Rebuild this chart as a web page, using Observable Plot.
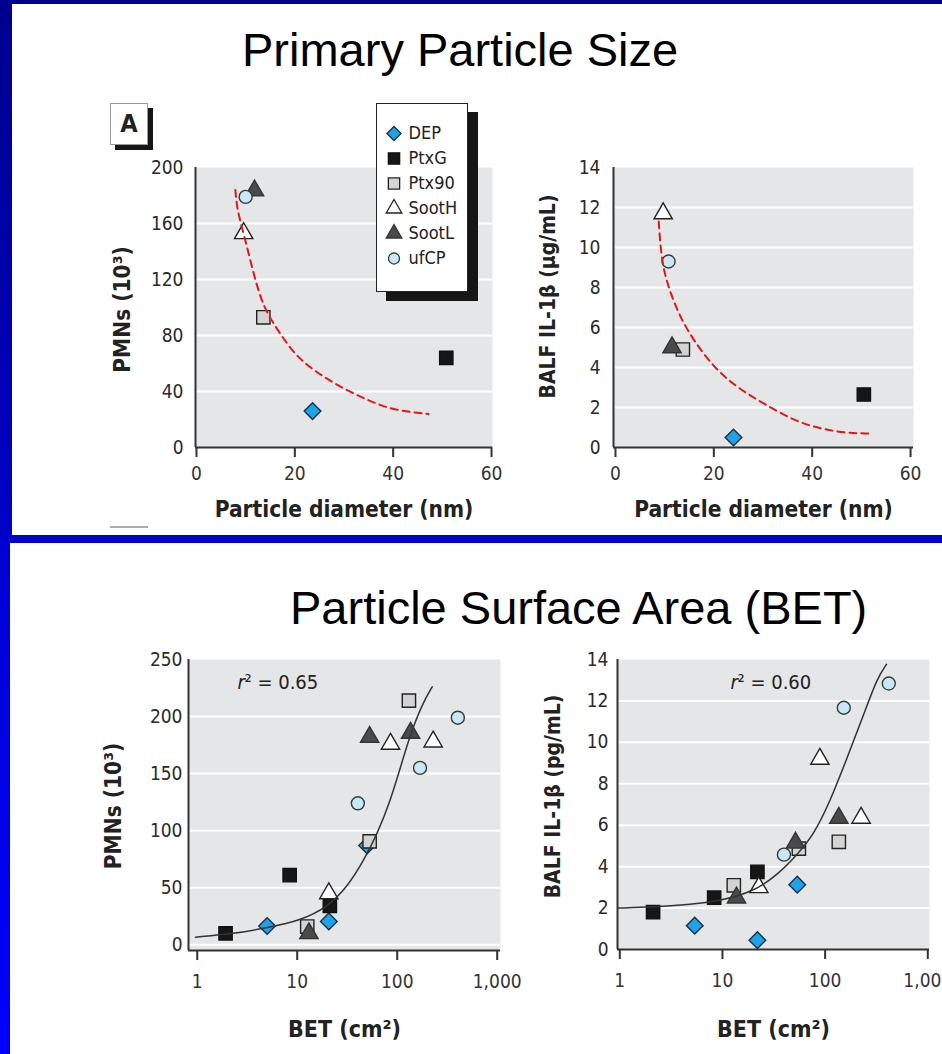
<!DOCTYPE html>
<html>
<head>
<meta charset="utf-8">
<script src="https://cdn.jsdelivr.net/npm/d3@7"></script>
<script src="https://cdn.jsdelivr.net/npm/@observablehq/plot@0.6"></script>
<style>
html,body{margin:0;padding:0;width:942px;height:1054px;overflow:hidden;background:#fff;}
#page{position:relative;width:942px;height:1054px;overflow:hidden;background:#fff;}
.abs{position:absolute;}
.title{font-family:"Liberation Sans",Arial,sans-serif;font-size:47px;line-height:47px;color:#000;white-space:nowrap;}
</style>
</head>
<body>
<div id="page"></div>
<script>
// ---------------- DATA ----------------
const categories = ["DEP", "PtxG", "Ptx90", "SootH", "SootL", "ufCP"];

// Top-left: PMNs (10^3) vs particle diameter (nm)
const diamPmnsX = [23.6, 50.8, 13.6, 9.6, 11.8, 10.0];
const diamPmnsY = [26, 64, 93, 153, 183.5, 179];
const diamFitPmnsX = [7.9, 8.3, 9.6, 11.6, 13.6, 16.5, 19.8, 23.8, 29.3, 34.7, 40, 47.2];
const diamFitPmnsY = [184, 169, 153, 124, 100, 84, 67, 55, 43, 34, 26.5, 24];

// Top-right: BALF IL-1β (µg/mL) vs particle diameter (nm)
const diamIlX = [24.0, 50.5, 13.7, 9.7, 11.5, 10.8];
const diamIlY = [0.5, 2.65, 4.9, 11.7, 5.0, 9.3];
const diamFitIlX = [8.8, 9.15, 9.8, 11.2, 13.2, 15.9, 20, 24.7, 30.1, 36.2, 41.7, 47.1, 51.5];
const diamFitIlY = [11.3, 10.0, 8.85, 7.7, 6.5, 5.35, 4.0, 3.0, 2.2, 1.35, 0.93, 0.72, 0.7];

// Bottom: BET surface area (cm²)
const betCat = ["DEP","DEP","DEP","PtxG","PtxG","PtxG","Ptx90","Ptx90","Ptx90",
                "SootH","SootH","SootH","SootL","SootL","SootL","ufCP","ufCP","ufCP"];
const betPmnsX = [5.0, 20.7, 50, 1.92, 8.4, 21.2, 12.6, 53, 131, 20.7, 85.7, 229, 13.1, 53, 136, 40.4, 169, 404];
const betPmnsY = [16.5, 20.5, 87, 10, 61, 34, 16, 90.6, 214, 45, 176, 178, 10, 182, 185.6, 124, 155, 199];
const betFitPmnsX = [0.96, 2.32, 5.0, 10.8, 20, 31.6, 46.4, 63, 85.7, 108, 136, 178, 224];
const betFitPmnsY = [6.7, 9.6, 15, 21.3, 33, 50.5, 74, 97, 126.6, 155.8, 185, 211, 226];

const betIlX = [5.37, 21.9, 53.5, 2.11, 8.3, 21.9, 12.9, 55.5, 136, 22.6, 88.9, 224, 13.7, 51.5, 136, 39.7, 152, 417];
const betIlY = [1.15, 0.45, 3.13, 1.8, 2.5, 3.75, 3.1, 4.87, 5.2, 3.0, 9.2, 6.35, 2.5, 5.15, 6.35, 4.58, 11.67, 12.84];
const betFitIlX = [0.97, 2.16, 4.55, 9.6, 20.2, 34.2, 53.5, 77.6, 112, 164, 238, 321, 396];
const betFitIlY = [2.0, 2.05, 2.16, 2.35, 2.8, 3.6, 4.58, 5.55, 7.16, 9.26, 11.35, 13.1, 13.77];

// Ticks
const pmnsDiamTicks = [0, 40, 80, 120, 160, 200];
const diamTicks = [0, 20, 40, 60];
const ilTicks = [0, 2, 4, 6, 8, 10, 12, 14];
const pmnsBetTicks = [0, 50, 100, 150, 200, 250];
const betTicks = [1, 10, 100, 1000];
const betTickLabels = ["1", "10", "100", "1,000"];

// Text
const titleTop = "Primary Particle Size";
const titleBottom = "Particle Surface Area (BET)";
const labelDiam = "Particle diameter (nm)";
const labelBet = "BET (cm²)";
const labelPmns = "PMNs (10³)";
const labelIlUg = "BALF IL-1β (μg/mL)";
const labelIlPg = "BALF IL-1β (pg/mL)";
const r2Values = ["0.65", "0.60"];

// ---------------- STYLE ----------------
const FONT = '"Liberation Sans Narrow","Arial Narrow","DejaVu Sans Condensed",sans-serif';
const BG = "#e5e6e8";
const sym = {
  DEP:   {symbol: "diamond2", r: 7.5, fill: "#1ea4e6", stroke: "#1b2f4a"},
  PtxG:  {symbol: "square",   r: 7.5, fill: "#161616", stroke: "#111111"},
  Ptx90: {symbol: "square",   r: 7.5, fill: "#d3d3d3", stroke: "#222222"},
  SootH: {symbol: "triangle", r: 6.8, fill: "#ffffff", stroke: "#222222"},
  SootL: {symbol: "triangle", r: 6.8, fill: "#4a4a4a", stroke: "#333333"},
  ufCP:  {symbol: "circle",   r: 6.5, fill: "#c8e8f8", stroke: "#3a3a3a"}
};

const page = document.getElementById("page");
function place(node, left, top) {
  const d = document.createElement("div");
  d.className = "abs";
  d.style.left = left + "px";
  d.style.top = top + "px";
  d.appendChild(node);
  page.appendChild(d);
  return d;
}
function box(left, top, w, h, css) {
  const d = document.createElement("div");
  d.className = "abs";
  Object.assign(d.style, {left: left + "px", top: top + "px", width: w + "px", height: h + "px"}, css || {});
  page.appendChild(d);
  return d;
}

// Frame bars
box(0, 0, 942, 4, {background: "#00008e"});
box(0, 0, 12, 535, {background: "linear-gradient(#00008e,#0000c8)"});
box(0, 535, 942, 8, {background: "#0000d0"});
box(0, 543, 10, 511, {background: "linear-gradient(#0000d4,#0000ff)"});
box(110, 526, 38, 1.5, {background: "#aaaaaa"});

// Titles
const t1 = box(242, 26, 460, 50); t1.className = "abs title"; t1.textContent = titleTop;
const t2 = box(290, 584, 620, 50); t2.className = "abs title"; t2.textContent = titleBottom;

function panel(cfg) {
  const pts = cfg.cats.map((c, i) => ({cat: c, x: cfg.px[i], y: cfg.py[i]}));
  const fit = cfg.fx.map((x, i) => ({x, y: cfg.fy[i]}));
  const dots = categories.map(c => Plot.dot(pts.filter(d => d.cat === c), {
    x: "x", y: "y", symbol: sym[c].symbol, r: sym[c].r, fill: sym[c].fill,
    stroke: sym[c].stroke, strokeWidth: 1.4
  }));
  const marks = [
    Plot.frame({fill: BG, stroke: "none"}),
    Plot.gridY(cfg.yTicks.filter(t => t > cfg.yDomain[0] && t < cfg.yDomain[1]), {stroke: "#ffffff", strokeOpacity: 1, strokeWidth: 2}),
    Plot.ruleX([cfg.xDomain[0]], {stroke: "#333", strokeWidth: 2}),
    Plot.ruleY([cfg.yDomain[0]], {stroke: "#333", strokeWidth: 2}),
    Plot.axisY(cfg.yTicks, {tickSize: 0, tickPadding: cfg.yPad, label: null, fontSize: 19, color: "#2a2a2a"}),
    Plot.axisX(cfg.xTicks, {tickSize: 10, tickPadding: cfg.xPad, label: null, fontSize: 19, color: "#333",
      strokeWidth: 2, tickFormat: cfg.xFormat}),
    ...dots,
    Plot.line(fit, {x: "x", y: "y", curve: "basis", ...cfg.fitStyle}),
    Plot.text([cfg.xLabel], {text: d => d, frameAnchor: "bottom", textAnchor: "middle", lineAnchor: "middle",
      dy: cfg.xLabelDy, fontWeight: "bold", fontSize: cfg.xLabelSize, fill: "#222"}),
    Plot.text([cfg.yLabel], {text: d => d, frameAnchor: "left", textAnchor: "middle", lineAnchor: "middle", rotate: -90,
      dx: cfg.yLabelDx, dy: cfg.yLabelDy, fontWeight: "bold", fontSize: cfg.yLabelSize, fill: "#222"})
  ];
  if (cfg.r2) {
    marks.push(Plot.text(["r"], {text: d => d, frameAnchor: "top-left", textAnchor: "start", lineAnchor: "middle",
      dx: cfg.r2dx, dy: cfg.r2dy, fontStyle: "italic", fontSize: 20, fill: "#222"}));
    marks.push(Plot.text([cfg.r2], {text: d => "² = " + d, frameAnchor: "top-left", textAnchor: "start", lineAnchor: "middle",
      dx: cfg.r2dx + 7, dy: cfg.r2dy, fontSize: 20, fill: "#222"}));
  }
  const svg = Plot.plot({
    width: cfg.width, height: cfg.height,
    marginLeft: cfg.m[0], marginTop: cfg.m[1], marginRight: cfg.m[2], marginBottom: cfg.m[3],
    style: {fontFamily: FONT, fontSize: "19px", background: "transparent", color: "#2a2a2a", overflow: "visible"},
    x: {type: cfg.xType, domain: cfg.xDomain},
    y: {type: "linear", domain: cfg.yDomain},
    marks
  });
  place(svg, cfg.left, cfg.top);
}

const redDash = {stroke: "#e8141c", strokeWidth: 2, strokeDasharray: "7,5"};
const blackFit = {stroke: "#333", strokeWidth: 1.5};
const betFormat = d => betTickLabels[betTicks.indexOf(d)];

// Top-left
panel({left: 100, top: 150, width: 420, height: 385, m: [95, 17, 28, 88],
  cats: categories, px: diamPmnsX, py: diamPmnsY, fx: diamFitPmnsX, fy: diamFitPmnsY,
  xType: "linear", xDomain: [-0.2, 60.2], yDomain: [0, 200], xTicks: diamTicks, yTicks: pmnsDiamTicks,
  yPad: 12, xPad: 9, xLabel: labelDiam, yLabel: labelPmns, xLabelDy: 62, yLabelDx: -73, yLabelDy: 2,
  xLabelSize: 22.5, yLabelSize: 22.5, fitStyle: redDash});

// Top-right
panel({left: 520, top: 150, width: 422, height: 385, m: [93, 17, 29, 88],
  cats: categories, px: diamIlX, py: diamIlY, fx: diamFitIlX, fy: diamFitIlY,
  xType: "linear", xDomain: [-0.4, 60.6], yDomain: [0, 14], xTicks: diamTicks, yTicks: ilTicks,
  yPad: 13, xPad: 9, xLabel: labelDiam, yLabel: labelIlUg, xLabelDy: 62, yLabelDx: -65, yLabelDy: -11,
  xLabelSize: 22.5, yLabelSize: 21, fitStyle: redDash});

// Bottom-left
panel({left: 100, top: 640, width: 420, height: 414, m: [88, 19, 20, 104],
  cats: betCat, px: betPmnsX, py: betPmnsY, fx: betFitPmnsX, fy: betFitPmnsY,
  xType: "log", xDomain: [0.818, 1079], yDomain: [-5, 250], xTicks: betTicks, yTicks: pmnsBetTicks,
  xFormat: betFormat, yPad: 6, xPad: 14, xLabel: labelBet, yLabel: labelPmns, xLabelDy: 79, yLabelDx: -75, yLabelDy: 1,
  xLabelSize: 23, yLabelSize: 22.5, fitStyle: blackFit, r2: r2Values[0], r2dx: 49, r2dy: 23});

// Bottom-right
panel({left: 520, top: 640, width: 422, height: 414, m: [97, 19, 13, 105],
  cats: betCat, px: betIlX, py: betIlY, fx: betFitIlX, fy: betFitIlY,
  xType: "log", xDomain: [0.95, 1039], yDomain: [0, 14], xTicks: betTicks, yTicks: ilTicks,
  xFormat: betFormat, yPad: 9, xPad: 14, xLabel: labelBet, yLabel: labelIlPg, xLabelDy: 80, yLabelDx: -64, yLabelDy: -8,
  xLabelSize: 23, yLabelSize: 21, fitStyle: blackFit, r2: r2Values[1], r2dx: 113, r2dy: 23});

// Legend
const legBox = box(376, 103, 92, 189, {boxSizing: "border-box", border: "1.5px solid #222", background: "#fff",
  boxShadow: "10px 9px 0 #161616"});
const legRows = categories.map(c => ({cat: c}));
const legend = Plot.plot({
  width: 89, height: 186, margin: 0,
  style: {fontFamily: FONT, fontSize: "18px", background: "transparent", color: "#222", overflow: "visible"},
  y: {type: "point", domain: categories, range: [13.5, 168.5], axis: null},
  marks: [
    ...categories.map(c => Plot.dot(legRows.filter(d => d.cat === c), {
      y: "cat", frameAnchor: "left", dx: 16.5, symbol: sym[c].symbol, r: sym[c].r * 0.85,
      fill: sym[c].fill, stroke: sym[c].stroke, strokeWidth: 1.3})),
    Plot.text(legRows, {y: "cat", text: "cat", frameAnchor: "left", dx: 31, textAnchor: "start", fontSize: 18, fill: "#222"})
  ]
});
legBox.appendChild(legend);

// "A" panel tag
const tag = box(110, 103, 38, 42, {boxSizing: "border-box", border: "1.5px solid #9a9a9a", background: "#fff",
  boxShadow: "5px 5px 0 #161616", fontFamily: FONT, fontWeight: "bold", fontSize: "25px", lineHeight: "39px",
  textAlign: "center", color: "#222"});
tag.textContent = "A";
</script>
</body>
</html>
